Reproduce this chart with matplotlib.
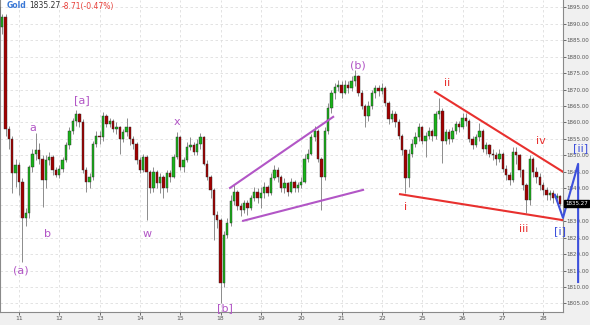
import numpy as np
import matplotlib
matplotlib.use('Agg')
import matplotlib.pyplot as plt

# ---- data (2h bars, 12 per day) ----
first_open = 1895.0
closes = [
    1889, 1892, 1858, 1855, 1844.5, 1847,  # tail of 10th
    1842, 1831, 1832.5, 1846.5, 1850.5, 1851.5, 1849, 1842.5, 1848.5, 1849.5, 1845.5, 1844,
    1846, 1848.5, 1853, 1857.5, 1860.5, 1862.5, 1860, 1845.5, 1842, 1843.5, 1853.5, 1856,
    1855.5, 1862, 1859.5, 1860.5, 1858, 1858.5, 1855, 1857, 1858.5, 1855, 1853.5, 1848.5,
    1845.5, 1849.5, 1845, 1840, 1845, 1841.5, 1843.5, 1840, 1844.5, 1843.5, 1849.5, 1855.5,
    1846.5, 1848.5, 1852.5, 1853, 1851, 1853.5, 1855.5, 1847.5, 1843.5, 1839.5, 1832, 1830.5,
    1811.2, 1825.7, 1829.5, 1836, 1838.8, 1834.5, 1833.5, 1835.5, 1834, 1837, 1839, 1837,
    1838.5, 1840.5, 1838.5, 1843, 1845.5, 1843.5, 1840, 1841.5, 1839, 1842, 1840, 1841,
    1842, 1849, 1850.5, 1855.5, 1857.5, 1849, 1843.5, 1857.5, 1864.5, 1869, 1870.8, 1871.5,
    1869, 1871.5, 1870.5, 1872.5, 1874, 1869, 1865, 1862, 1865, 1869, 1870.5, 1869.5,
    1870.5, 1866, 1861, 1862.5, 1860, 1856, 1851.5, 1843, 1850.5, 1853.5, 1855.5, 1858.5,
    1854.5, 1856, 1857.5, 1856, 1862.5, 1863.5, 1854.5, 1857, 1855, 1857.5, 1859.5, 1858.5,
    1861.5, 1860.5, 1855, 1853, 1855.5, 1857.5, 1852, 1853, 1850.5, 1850, 1849, 1850.5,
    1846, 1844, 1842.5, 1851, 1850, 1845.5, 1841, 1836.5, 1849, 1845, 1843.5, 1841,
    1839.5, 1838, 1838.5, 1837, 1837.5, 1835.27,
]
highs = [
    1896, 1893, 1893, 1859, 1856, 1849,
    1848, 1843, 1834, 1847, 1852, 1856.8, 1853.7, 1850, 1850, 1851, 1850, 1846.5,
    1847, 1849.5, 1854, 1858.5, 1861.5, 1863.8, 1863, 1861, 1846.5, 1844.5, 1854.5, 1857.5,
    1857.5, 1863.2, 1862.5, 1861.5, 1861, 1860, 1859, 1858, 1861.3, 1858.5, 1856, 1854,
    1849.5, 1850.5, 1850, 1845.5, 1846.5, 1845.5, 1844.5, 1844, 1845.5, 1845.5, 1850.5, 1857,
    1856, 1849.5, 1854, 1855.5, 1854, 1855, 1856.8, 1856, 1848.5, 1844, 1840, 1833,
    1831, 1827, 1831, 1838, 1841, 1839.5, 1835.5, 1836.5, 1836.5, 1838, 1840.5, 1840,
    1840.5, 1842, 1841, 1844.5, 1847, 1846.5, 1844, 1843, 1842, 1843, 1842.5, 1842,
    1843.5, 1850.5, 1852, 1856.5, 1859, 1858, 1849.5, 1858.5, 1866, 1870, 1872, 1873,
    1872.5, 1873, 1872.5, 1874, 1875.8, 1874.5, 1870, 1865.5, 1866.5, 1870, 1871.5, 1871.5,
    1872, 1871, 1866.5, 1863.8, 1863.5, 1861, 1856.5, 1852, 1852, 1855, 1857, 1859.8,
    1859, 1857, 1858.5, 1858, 1863.5, 1867.3, 1864.5, 1858, 1858, 1858.5, 1860.5, 1860.5,
    1863, 1863, 1861, 1856, 1856.5, 1859.8, 1858, 1854, 1853.5, 1852, 1851, 1852,
    1851, 1847, 1845, 1852.5, 1852.5, 1850.5, 1846, 1841.5, 1850, 1849.5, 1846.5, 1844.5,
    1842, 1840.5, 1839.5, 1839.5, 1838.5, 1838,
]
lows = [
    1888, 1887, 1856, 1852, 1838.5, 1840.5,
    1838, 1817.6, 1828.5, 1831, 1845, 1848.5, 1847.5, 1834.3, 1840, 1847, 1844, 1843.4,
    1843, 1845, 1848, 1852, 1856.5, 1859, 1858.5, 1844.5, 1838.8, 1840, 1842.5, 1852.5,
    1853.5, 1854.5, 1858.5, 1858.5, 1857, 1856.5, 1850.5, 1854, 1856, 1853, 1852, 1847.5,
    1844.5, 1845, 1830.5, 1838.5, 1839, 1840, 1838.5, 1837, 1839, 1842, 1843, 1849,
    1845.5, 1845, 1848, 1851.5, 1850, 1850, 1852, 1847, 1842.5, 1837, 1824.3, 1828,
    1805.1, 1810, 1825, 1828.5, 1835, 1833.5, 1831.7, 1832.5, 1832, 1833.5, 1836, 1835.5,
    1834, 1837, 1837.5, 1838, 1842.5, 1842, 1839, 1838.5, 1837.5, 1838.5, 1839, 1839,
    1840, 1841.5, 1848, 1850, 1854.5, 1848, 1833.4, 1842.5, 1856.5, 1863, 1867, 1869.5,
    1867.5, 1868.5, 1869, 1869.5, 1871, 1868, 1864, 1858.7, 1860.5, 1864, 1867.5, 1868,
    1868.5, 1865, 1859.5, 1860, 1858.5, 1855, 1850, 1838.5, 1840.5, 1849.5, 1852.5, 1854.5,
    1853.5, 1849.5, 1855, 1854.5, 1855, 1861, 1847.6, 1853.5, 1853.5, 1854, 1856.5, 1857,
    1858, 1859, 1854, 1852, 1852.5, 1854.5, 1851, 1850.5, 1849.5, 1848.5, 1847, 1848,
    1845, 1842.5, 1841, 1842, 1847.5, 1843.5, 1839.5, 1832.5, 1835, 1843.5, 1841.5, 1839.5,
    1838, 1836.5, 1836.5, 1835.5, 1835.5, 1834.5,
]
day_labels = ['11', '12', '13', '14', '15', '18', '19', '20', '21', '22', '25', '26', '27', '28']
bars_per_day = 12
price_ticks = np.arange(1805, 1896, 5)

# wave lines (bar index, price)
purple_upper = ([62.8, 93.5], [1840.1, 1861.7])
purple_lower = ([66.7, 102.4], [1830.1, 1839.5])
red_upper = ([123.8, 161.9], [1869.3, 1845.0])
red_lower = ([113.4, 161.9], [1838.2, 1830.3])
blue_v = ([159.5, 161.9, 166.4, 166.4], [1838.0, 1831.0, 1847.4, 1811.5])

# wave labels: (text, bar index, price, colour)
PURPLE = '#b256c6'
RED = '#e8302e'
BLUE = '#3d50dc'
labels = [
    ('(a)', 0.6, 1815.0, PURPLE), ('a', 4.2, 1858.3, PURPLE), ('b', 8.6, 1826.1, PURPLE),
    ('[a]', 18.75, 1866.8, PURPLE), ('w', 38.1, 1826.1, PURPLE), ('x', 47.0, 1860.1, PURPLE),
    ('[b]', 61.3, 1803.6, PURPLE), ('(b)', 100.9, 1877.4, PURPLE),
    ('ii', 127.4, 1871.9, RED), ('i', 114.9, 1834.3, RED), ('iv', 155.4, 1854.4, RED),
    ('iii', 150.3, 1827.6, RED), ('[ii]', 167.0, 1852.2, BLUE), ('[i]', 161.0, 1827.1, BLUE),
]

assert len(closes) == len(highs) == len(lows)
c = np.array(closes, dtype=float)
o = np.array([first_open] + closes[:-1], dtype=float)
h = np.array(highs, dtype=float)
l = np.array(lows, dtype=float)
x = np.arange(len(c)) - 6

fig = plt.figure(figsize=(5.9, 3.25), dpi=100, facecolor='#f0f0f0')
ax = fig.add_axes([0, 13 / 325, 563 / 590, 312 / 325])
ax.set_facecolor('white')

# candles
ax.vlines(x, l, h, color='#8c8c8c', lw=0.7, zorder=2)
up = c >= o
body = np.maximum(np.abs(c - o), 0.25)
ax.bar(x, body, bottom=np.minimum(o, c), width=0.7,
       color=np.where(up, '#19b319', '#a30000'), edgecolor='#2a2a2a', lw=0.3, zorder=3)

# wave lines
ax.plot(*purple_upper, color=PURPLE, lw=1.5, zorder=4)
ax.plot(*purple_lower, color=PURPLE, lw=1.5, zorder=4)
ax.plot(*red_upper, color=RED, lw=1.5, zorder=4)
ax.plot(*red_lower, color=RED, lw=1.5, zorder=4)
ax.plot(*blue_v, color=BLUE, lw=1.5, zorder=6, clip_on=False)

for s, xi, yi, col in labels:
    ax.text(xi, yi, s, color=col, fontsize=8, ha='center', va='center',
            zorder=7, clip_on=False)

ax.set_xlim(-5.65, 161.9)
ax.set_ylim(1802.39, 1897.22)

ax.set_xticks(np.arange(len(day_labels)) * bars_per_day)
ax.set_xticklabels(day_labels)
ax.yaxis.tick_right()
ax.set_yticks(price_ticks)
ax.set_yticklabels(['%.2f' % v for v in price_ticks])
ax.tick_params(axis='x', labelsize=4.3, colors='#555555', length=2, width=0.6, pad=1)
ax.tick_params(axis='y', labelsize=4.0, colors='#555555', length=2, width=0.6, pad=0.5)

ax.grid(True, ls=(0, (3, 3)), color='#dedede', lw=0.6)
ax.set_axisbelow(True)
ax.spines['top'].set_visible(False)
for side in ['left', 'right', 'bottom']:
    ax.spines[side].set_color('#8a8a8a')
    ax.spines[side].set_linewidth(0.8)

# last price marker
ax.text(1.004, closes[-1], '%.2f' % closes[-1], transform=ax.get_yaxis_transform(),
        fontsize=4.0, color='white', ha='left', va='center', zorder=8, clip_on=False,
        bbox=dict(boxstyle='square,pad=0.2', fc='black', ec='black'))

# header
hy = 1 - 6 / 325
t1 = fig.text(7 / 590, hy, 'Gold', color='#3a78d6', fontsize=5.5, fontweight='bold', va='center')
t2 = fig.text(0, 0, '1835.27', color='#333333', fontsize=5.5, va='center')
t3 = fig.text(0, 0, '-8.71(-0.47%)', color='#e8403a', fontsize=5.5, va='center')
fig.canvas.draw()
r = fig.canvas.get_renderer()
b1 = t1.get_window_extent(r)
t2.set_position(((b1.x1 + 2) / fig.bbox.width, hy))
b2 = t2.get_window_extent(r)
t3.set_position(((b2.x1 + 2) / fig.bbox.width, hy))

fig.savefig('out.png', dpi=100, facecolor=fig.get_facecolor())
